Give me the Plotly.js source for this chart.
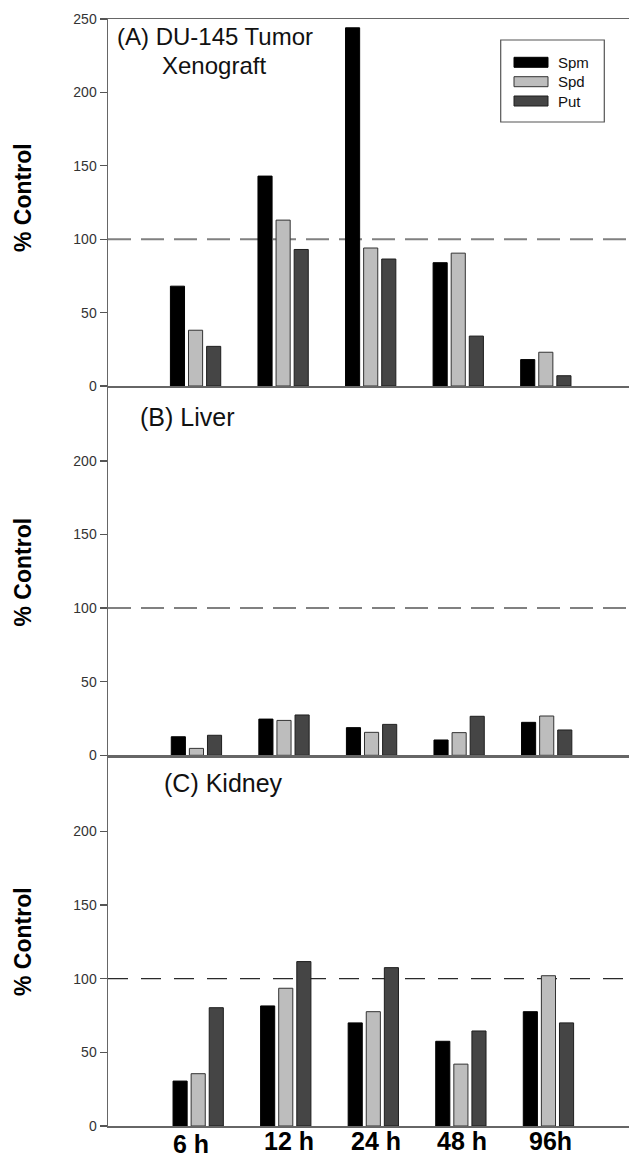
<!DOCTYPE html>
<html>
<head>
<meta charset="utf-8">
<script src="https://cdn.plot.ly/plotly-3.0.1.min.js"></script>
<style>html,body{margin:0;padding:0;background:#fff;}#chart{width:629px;height:1159px;}</style>
</head>
<body>
<div id="chart"></div>
<script>
// ---- data ----
const categories = ['6 h', '12 h', '24 h', '48 h', '96h'];
const seriesNames = ['Spm', 'Spd', 'Put'];

const tumorSpm = [68, 143, 244, 84, 18];
const tumorSpd = [38, 113, 94, 90.5, 23];
const tumorPut = [27, 93, 86.5, 34, 7];

const liverSpm = [12.6, 24.6, 18.8, 10.4, 22.4];
const liverSpd = [4.7, 23.7, 15.6, 15.4, 26.7];
const liverPut = [13.6, 27.4, 21, 26.5, 17.2];

const kidneySpm = [30.5, 81.5, 70, 57.5, 77.6];
const kidneySpd = [35.5, 93.5, 77.6, 42, 102];
const kidneyPut = [80.3, 111.6, 107.5, 64.5, 70];

const panelLabels = ['(A) DU-145 Tumor', 'Xenograft', '(B) Liver', '(C) Kidney'];
const yTitle = '% Control';
const controlLevel = 100;
const yTicksA = [0, 50, 100, 150, 200, 250];
const yTicksBC = [0, 50, 100, 150, 200];

// ---- styles ----
const fills = ['#000000', '#bdbdbd', '#454545'];
const outlines = ['#000000', '#333333', '#1e1e1e'];
const FONT = '"Liberation Sans", Arial, Helvetica, sans-serif';

const panels = [
  {vals: [tumorSpm, tumorSpd, tumorPut], xa: 'x', ya: 'y'},
  {vals: [liverSpm, liverSpd, liverPut], xa: 'x2', ya: 'y2'},
  {vals: [kidneySpm, kidneySpd, kidneyPut], xa: 'x3', ya: 'y3'}
];

const traces = [];
panels.forEach((p, pi) => {
  p.vals.forEach((v, si) => {
    traces.push({
      type: 'bar', x: categories, y: v, name: seriesNames[si],
      xaxis: p.xa, yaxis: p.ya, showlegend: false,
      marker: {color: fills[si], line: {color: outlines[si], width: 1}},
      hoverinfo: 'skip'
    });
  });
});

function xAxis(range, anchor) {
  return {
    domain: [0, 1], anchor: anchor, type: 'category', range: range,
    showline: true, linecolor: '#666', linewidth: 1.5, mirror: true,
    ticks: '', showticklabels: false, showgrid: false, zeroline: false, fixedrange: true
  };
}
function yAxis(domain, range, tickvals, anchor) {
  return {
    domain: domain, anchor: anchor, range: range, tickvals: tickvals,
    showline: true, linecolor: '#666', linewidth: 1.5,
    ticks: 'outside', ticklen: 7, tickwidth: 1.3, tickcolor: '#555',
    tickfont: {family: FONT, size: 14, color: '#333'},
    showgrid: false, zeroline: false, fixedrange: true
  };
}

const paperX = px => (px - 108) / 521;
const paperY = py => (1126 - py) / 1107;

const shapes = [];
// control reference lines
[['y', '#808080', 2, '23px,10px'], ['y2', '#808080', 2, '23px,10px'], ['y3', '#2a2a2a', 1.3, '20px,13px']].forEach((d, i) => {
  shapes.push({type: 'line', xref: ['x', 'x2', 'x3'][i] + ' domain', yref: d[0], x0: 0, x1: 1,
    y0: controlLevel, y1: controlLevel, line: {color: d[1], width: d[2], dash: d[3]}, layer: 'below'});
});
// legend box
shapes.push({type: 'rect', xref: 'paper', yref: 'paper', x0: paperX(500.7), x1: paperX(604.3),
  y0: paperY(122), y1: paperY(40), line: {color: '#555', width: 1.2}, fillcolor: 'rgba(0,0,0,0)'});
const rowY = [62.3, 81.7, 101];
const annotations = [];
seriesNames.forEach((n, i) => {
  shapes.push({type: 'rect', xref: 'paper', yref: 'paper', x0: paperX(514), x1: paperX(548),
    y0: paperY(rowY[i] + 5), y1: paperY(rowY[i] - 5), fillcolor: fills[i], line: {color: outlines[i], width: 1}});
  annotations.push({xref: 'paper', yref: 'paper', x: paperX(555.5), y: paperY(rowY[i]), xanchor: 'left', yanchor: 'middle',
    text: n, showarrow: false, font: {family: FONT, size: 15, color: '#111'}});
});

// panel labels
annotations.push({xref: 'paper', yref: 'paper', x: paperX(115), y: paperY(37), xanchor: 'left', yanchor: 'middle',
  text: panelLabels[0], showarrow: false, font: {family: FONT, size: 24, color: '#111'}});
annotations.push({xref: 'paper', yref: 'paper', x: paperX(159.5), y: paperY(66), xanchor: 'left', yanchor: 'middle',
  text: panelLabels[1], showarrow: false, font: {family: FONT, size: 24, color: '#111'}});
annotations.push({xref: 'paper', yref: 'paper', x: paperX(137.5), y: paperY(417), xanchor: 'left', yanchor: 'middle',
  text: panelLabels[2], showarrow: false, font: {family: FONT, size: 25, color: '#111'}});
annotations.push({xref: 'paper', yref: 'paper', x: paperX(161.5), y: paperY(783), xanchor: 'left', yanchor: 'middle',
  text: panelLabels[3], showarrow: false, font: {family: FONT, size: 25, color: '#111'}});

// y titles
[197.5, 572, 941.5].forEach(cy => {
  annotations.push({xref: 'paper', yref: 'paper', x: paperX(22.5), y: paperY(cy), xanchor: 'center', yanchor: 'middle',
    text: '<b>' + yTitle + '</b>', textangle: -90, showarrow: false, font: {family: FONT, size: 23, color: '#000'}});
});

// x category labels (bottom panel)
const labelShift = [[-7, -3], [3, 0], [3, 0], [1, 0], [2, 0]];
categories.forEach((c, i) => {
  annotations.push({xref: 'x3', yref: 'paper', x: c, y: 0, xanchor: 'center', yanchor: 'top',
    xshift: labelShift[i][0], yshift: 1 + labelShift[i][1],
    text: '<b>' + c + '</b>', showarrow: false, font: {family: FONT, size: 25, color: '#000'}});
});

const layout = {
  width: 629, height: 1159,
  margin: {l: 108, r: 0, t: 19, b: 33, pad: 0},
  paper_bgcolor: '#fff', plot_bgcolor: 'rgba(0,0,0,0)',
  barmode: 'group', bargap: 0.38, bargroupgap: 0.22,
  showlegend: false,
  font: {family: FONT},
  xaxis: xAxis([-1.0, 4.95], 'y'),
  xaxis2: xAxis([-1.01, 4.94], 'y2'),
  xaxis3: xAxis([-1.03, 4.92], 'y3'),
  yaxis: yAxis([paperY(386), 1], [0, 250], yTicksA, 'x'),
  yaxis2: yAxis([paperY(755.3), paperY(387.3)], [0, 250], yTicksBC, 'x2'),
  yaxis3: yAxis([0, paperY(757.7)], [0, 250], yTicksBC, 'x3'),
  shapes: shapes,
  annotations: annotations
};

Plotly.newPlot('chart', traces, layout, {displayModeBar: false, staticPlot: true});
</script>
</body>
</html>
